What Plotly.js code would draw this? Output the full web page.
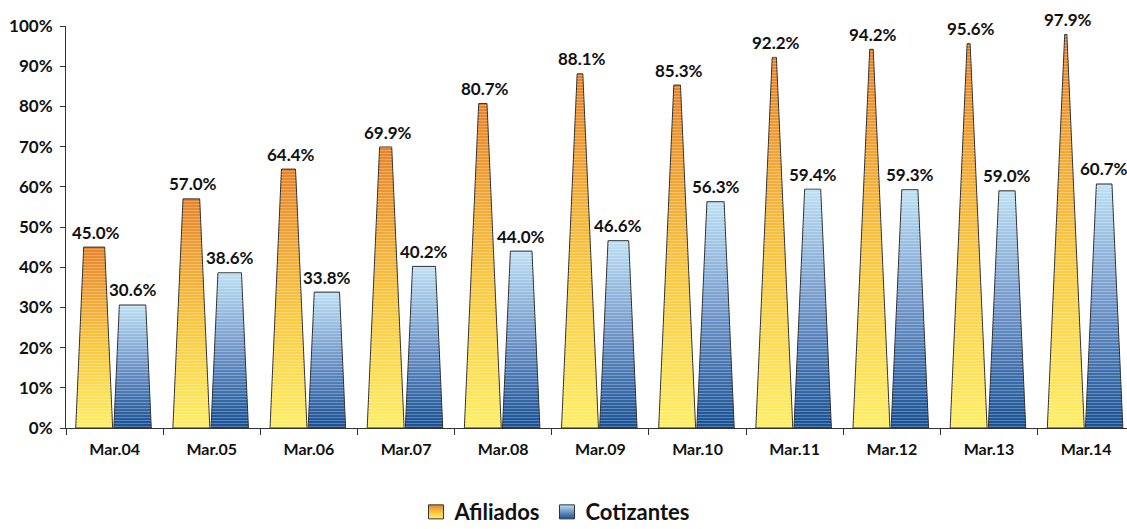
<!DOCTYPE html>
<html>
<head>
<meta charset="utf-8">
<script src="https://cdn.plot.ly/plotly-3.0.1.min.js"></script>
<style>html,body{margin:0;padding:0;background:#fff;}#chart{width:1127px;height:529px;}</style>
</head>
<body>
<div id="chart"></div>
<script>
const categories = ['Mar.04','Mar.05','Mar.06','Mar.07','Mar.08','Mar.09','Mar.10','Mar.11','Mar.12','Mar.13','Mar.14'];
const afiliados  = [0.450,0.570,0.644,0.699,0.807,0.881,0.853,0.922,0.942,0.956,0.979];
const cotizantes = [0.306,0.386,0.338,0.402,0.440,0.466,0.563,0.594,0.593,0.590,0.607];
const seriesNames = ['Afiliados','Cotizantes'];

const FONT = 'Lato, "Open Sans", sans-serif';
const APEX = 1.04;          // height where the pyramid sides would meet
const series = [
  {name: seriesNames[0], values: afiliados, offset: -0.21, width: 0.38,
   scale: [[0,'#FFEE63'],[0.45,'#F9C842'],[1,'#E7832A']]},
  {name: seriesNames[1], values: cotizantes, offset: 0.185, width: 0.385,
   scale: [[0,'#175093'],[0.5,'#6F95C8'],[1,'#BEE1F5']]}
];

const traces = [];
const annotations = [];
series.forEach((s, si) => {
  s.values.forEach((v, i) => {
    const c = i + s.offset;
    const hw = s.width / 2;
    const hwTop = hw * (1 - v / APEX);
    const xs = [c - hw, c - hwTop, c + hwTop, c + hw, c - hw];
    const ys = [0, v, v, 0, 0];
    traces.push({
      type: 'scatter', mode: 'lines', x: xs, y: ys,
      fill: 'toself',
      fillgradient: {type: 'vertical', colorscale: s.scale},
      line: {color: '#2b2b2b', width: 1},
      name: s.name, legendgroup: s.name, showlegend: i === 0,
      hoverinfo: 'skip'
    });
    traces.push({
      type: 'scatter', mode: 'lines', x: xs, y: ys,
      fill: 'toself', fillcolor: 'rgba(0,0,0,0)',
      fillpattern: {shape: '-', fgcolor: 'rgba(255,255,255,0.3)', bgcolor: 'rgba(0,0,0,0)', size: 3, solidity: 0.3},
      line: {color: 'rgba(0,0,0,0)', width: 0},
      showlegend: false, legendgroup: s.name, hoverinfo: 'skip'
    });
    annotations.push({
      x: c, y: v, xref: 'x', yref: 'y',
      text: (v * 100).toFixed(1) + '%',
      showarrow: false, yshift: 15, xshift: si === 0 ? 2 : 0,
      font: {family: FONT, size: 17, color: '#111', weight: 'bold'}
    });
  });
});

const layout = {
  width: 1127, height: 529,
  margin: {l: 66, r: 0, t: 26, b: 101},
  paper_bgcolor: '#fff', plot_bgcolor: '#fff',
  showlegend: true,
  legend: {orientation: 'h', xref: 'container', yref: 'container', x: 0.492, xanchor: 'center',
           y: 0.032, yanchor: 'middle', font: {family: FONT, size: 22, color: '#111', weight: 'bold'},
           itemwidth: 30, traceorder: 'normal'},
  xaxis: {
    range: [-0.5, 10.42], showgrid: false, zeroline: false,
    showline: true, linecolor: '#333', linewidth: 1,
    tickmode: 'array', tickvals: categories.map((_, i) => i), ticktext: categories,
    ticks: 'outside', ticklen: 7, tickcolor: 'rgba(0,0,0,0)',
    tickfont: {family: FONT, size: 16, color: '#111', weight: 'bold'},
    minor: {tickmode: 'array', tickvals: categories.map((_, i) => i - 0.5).concat([categories.length - 0.5]),
            ticks: 'outside', ticklen: 6, tickcolor: '#333', showgrid: false},
    fixedrange: true
  },
  yaxis: {
    range: [0, 1], dtick: 0.1, tickformat: '.0%', showgrid: false, zeroline: false,
    showline: true, linecolor: '#333', linewidth: 1,
    ticks: 'outside', ticklen: 5, tickcolor: '#333', ticklabelstandoff: 4,
    tickfont: {family: FONT, size: 17, color: '#111', weight: 'bold'},
    fixedrange: true
  },
  annotations: annotations
};

Plotly.newPlot('chart', traces, layout, {displayModeBar: false, staticPlot: true}).then(gd => {
  // make the legend swatches small squares like the original
  gd.querySelectorAll('.legend .traces').forEach(t => {
    t.querySelectorAll('.legendfill path').forEach(p => {
      p.setAttribute('d', 'M14,-7h15v14h-15z');
      p.style.stroke = '#333';
      p.style.strokeWidth = '1px';
    });
    t.querySelectorAll('.legendlines path').forEach(p => { p.style.display = 'none'; });
  });
});
</script>
</body>
</html>
